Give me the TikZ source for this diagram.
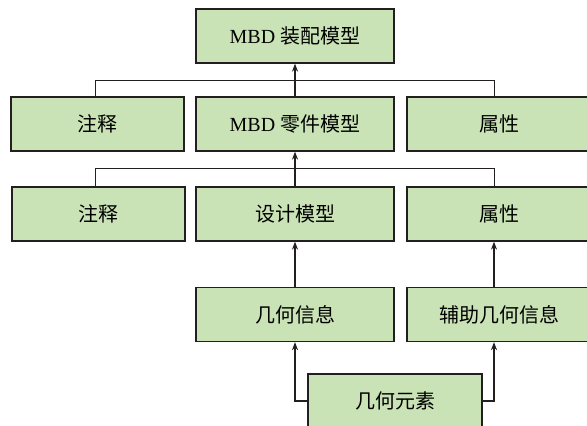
\documentclass[tikz,border=0pt]{standalone}
\usepackage{fontspec}
\setmainfont{Liberation Serif}
\newfontfamily\zh{Noto Sans CJK SC}
\usetikzlibrary{arrows.meta}
\definecolor{boxgreen}{HTML}{CAE3B6}
\definecolor{edge}{HTML}{231F20}
\tikzset{
    box/.style={draw=edge, line width=1.3pt, fill=boxgreen, minimum height=54pt, inner sep=0pt,
        font=\fontsize{20}{24}\selectfont},
    up/.style={-{Stealth[length=8pt,width=6pt]}, draw=edge, line width=1.3pt},
    bus/.style={draw=edge, line width=0.9pt}
}
\begin{document}
\begin{tikzpicture}[x=1pt,y=-1pt]
        \useasboundingbox (0,0) rectangle (587,426);
        \coordinate (rcol) at (494,0);
        \coordinate (bus1) at (494,80);
        \coordinate (bus2) at (494,168);
    
        \node[box, minimum width=198pt] (asm) at (295,36) {MBD {\zh 装配模型}};
        \node[box, minimum width=173pt] (ann1) at (97.5,124) {\zh 注释};
        \node[box, minimum width=198pt] (part) at (295,124) {MBD {\zh 零件模型}};
        \node[box, minimum width=184pt] (attr1) at (499,124) {\zh 属性};
        \node[box, minimum width=173pt] (ann2) at (98.5,214) {\zh 注释};
        \node[box, minimum width=198pt] (design) at (295,214) {\zh 设计模型};
        \node[box, minimum width=184pt] (attr2) at (499,214) {\zh 属性};
        \node[box, minimum width=198pt] (geo) at (295,314.5) {\zh 几何信息};
        \node[box, minimum width=184pt] (aux) at (499,314.5) {\zh 辅助几何信息};
        \node[box, minimum width=174pt] (elem) at (395,401) {\zh 几何元素};
    
        \draw[bus] ([xshift=-2.5pt]ann1.north) |- (bus1) -- (rcol |- attr1.north);
        \draw[up] (part.north) -- (asm.south);
        \draw[bus] ([xshift=-3.5pt]ann2.north) |- (bus2) -- (rcol |- attr2.north);
        \draw[up] (design.north) -- (part.south);
        \draw[up] (geo.north) -- (design.south);
        \draw[up] (rcol |- aux.north) -- (rcol |- attr2.south);
        \draw[up] (elem.west) -| (geo.south);
        \draw[up] (elem.east) -| (rcol |- aux.south);
    \end{tikzpicture}
\end{document}
